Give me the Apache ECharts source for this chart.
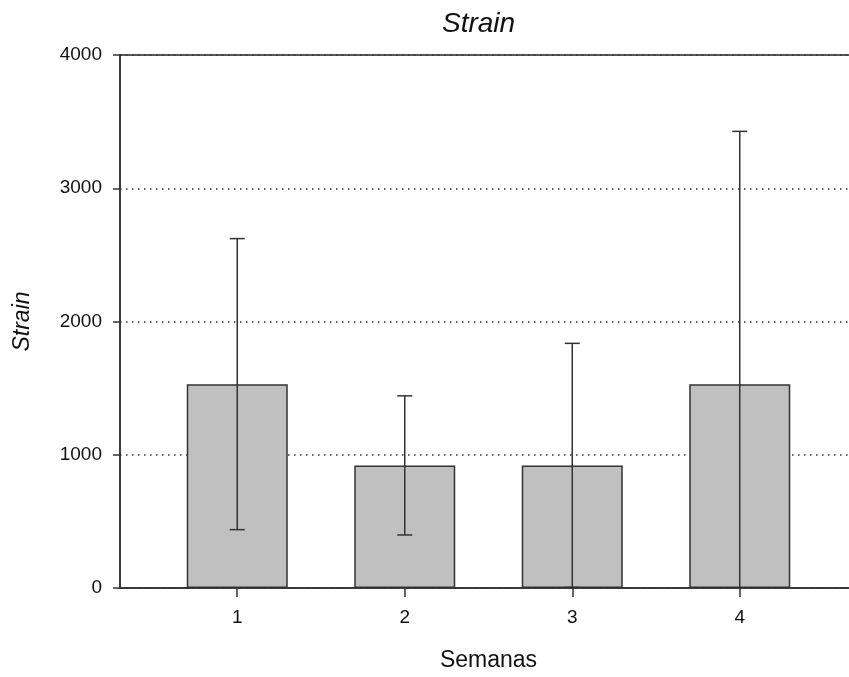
<!DOCTYPE html>
<html><head><meta charset="utf-8">
<script src="https://cdn.jsdelivr.net/npm/echarts@6/dist/echarts.min.js"></script>
<style>html,body{margin:0;padding:0;background:#fff;overflow:hidden}#c{width:849px;height:677px}</style>
</head><body><div id="c"></div>
<script>
var categories = [1, 2, 3, 4];
var means = [1530, 920, 920, 1530];
var errors = [1092, 522, 916, 1897];
var yTicks = [0, 1000, 2000, 3000, 4000];

var FONT = '"Liberation Sans", Arial, sans-serif';
var chart = echarts.init(document.getElementById('c'), null, {renderer: 'canvas'});
var barData = categories.map(function (c, i) { return [c, means[i]]; });
var errData = categories.map(function (c, i) { return [c, means[i] - errors[i], means[i] + errors[i]]; });

chart.setOption({
  animation: false,
  title: {
    text: 'Strain', left: 437, top: 5,
    textStyle: {fontFamily: FONT, fontStyle: 'italic', fontWeight: 'normal', fontSize: 28, color: '#111'}
  },
  grid: {left: 120, width: 737, top: 55, bottom: 89, outerBoundsMode: 'none', containLabel: false,
    show: true, borderColor: '#222', borderWidth: 1.5, backgroundColor: 'transparent'},
  xAxis: {
    type: 'value', min: 0.3, max: 4.7,
    name: 'Semanas', nameLocation: 'middle', nameGap: 61,
    nameTextStyle: {fontFamily: FONT, fontSize: 23, color: '#111'},
    axisLine: {show: true, onZero: false, lineStyle: {color: '#333', width: 1.5}},
    axisTick: {show: true, length: 9, customValues: categories, lineStyle: {color: '#333', width: 1.5}},
    axisLabel: {customValues: categories, margin: 20, fontFamily: FONT, fontSize: 19, color: '#111'},
    splitLine: {show: false}
  },
  yAxis: {
    type: 'value', min: 0, max: 4000, interval: 1000,
    name: 'Strain', nameLocation: 'middle', nameGap: 86, nameRotate: 90,
    nameTextStyle: {fontFamily: FONT, fontStyle: 'italic', fontSize: 23, color: '#111'},
    axisLine: {show: true, lineStyle: {color: '#333', width: 1.5}},
    axisTick: {show: true, length: 7, lineStyle: {color: '#333', width: 1.5}},
    axisLabel: {margin: 18, fontFamily: FONT, fontSize: 19, color: '#111',
      formatter: function (v) { return yTicks.indexOf(v) >= 0 ? String(v) : ''; }},
    splitLine: {show: true, lineStyle: {color: '#333', width: 1.5, type: [1.5, 4.5]}}
  },
  series: [
    {
      type: 'bar', data: barData, barWidth: 101,
      itemStyle: {color: '#c0c0c0', borderColor: '#333', borderWidth: 1.5},
      z: 2
    },
    {
      type: 'custom', data: errData, clip: true, z: 3,
      renderItem: function (params, api) {
        var x = api.value(0);
        var lo = api.coord([x, api.value(1)]);
        var hi = api.coord([x, api.value(2)]);
        var hw = 7.5;
        var st = {stroke: '#333', lineWidth: 1.5};
        return {type: 'group', children: [
          {type: 'line', shape: {x1: lo[0], y1: lo[1], x2: hi[0], y2: hi[1]}, style: st},
          {type: 'line', shape: {x1: hi[0] - hw, y1: hi[1], x2: hi[0] + hw, y2: hi[1]}, style: st},
          {type: 'line', shape: {x1: lo[0] - hw, y1: lo[1], x2: lo[0] + hw, y2: lo[1]}, style: st}
        ]};
      }
    }
  ]
});
</script></body></html>
